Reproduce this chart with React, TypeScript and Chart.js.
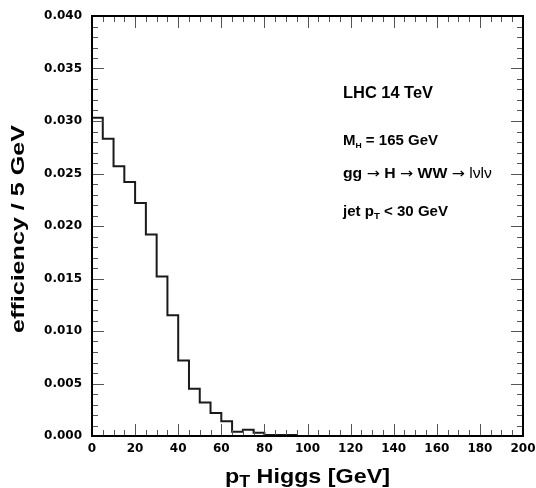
import React, { useEffect, useRef } from 'react';
import { Chart, registerables } from 'chart.js';

Chart.register(...registerables);

// ---- data ----
const binLowEdges = [
  0, 5, 10, 15, 20, 25, 30, 35, 40, 45,
  50, 55, 60, 65, 70, 75, 80, 85, 90, 95,
  100, 105, 110, 115, 120, 125, 130, 135, 140, 145,
  150, 155, 160, 165, 170, 175, 180, 185, 190, 195,
];
const efficiency = [
  0.0303, 0.0283, 0.0257, 0.0242, 0.0222, 0.0192, 0.0152, 0.0115, 0.0072, 0.0045,
  0.0032, 0.0022, 0.0014, 0.0004, 0.0006, 0.0003, 0.0001, 0.0001, 0.0001, 0,
  0, 0, 0, 0, 0, 0, 0, 0, 0, 0,
  0, 0, 0, 0, 0, 0, 0, 0, 0, 0,
];
const xMax = 200;
const yMax = 0.04;
const xMajorStep = 20;
const xMinorStep = 5;
const yMajorStep = 0.005;
const yMinorStep = 0.001;

type Run = { t: string; font: string; dy?: number };

function drawRuns(
  ctx: CanvasRenderingContext2D,
  runs: Run[],
  x: number,
  y: number,
  targetWidth?: number,
  rotation = 0
) {
  const widths = runs.map((r) => {
    ctx.font = r.font;
    return ctx.measureText(r.t).width;
  });
  const total = widths.reduce((s, w) => s + w, 0);
  const sx = targetWidth ? targetWidth / total : 1;
  ctx.save();
  ctx.translate(x, y);
  if (rotation) ctx.rotate(rotation);
  ctx.scale(sx, 1);
  ctx.textAlign = 'left';
  ctx.textBaseline = 'alphabetic';
  ctx.fillStyle = '#000';
  let cx = 0;
  runs.forEach((r, i) => {
    ctx.font = r.font;
    ctx.fillText(r.t, cx, r.dy || 0);
    cx += widths[i];
  });
  ctx.restore();
}

const LIB = '"Liberation Sans", Arial, sans-serif';
const B = (s: number) => `bold ${s}px ${LIB}`;
const R = (s: number) => `${s}px ${LIB}`;
const ARROW = '14px "DejaVu Sans", sans-serif';

const decorPlugin = {
  id: 'decor',
  afterDraw(chart: any) {
    const { ctx, chartArea: a, scales } = chart;
    const xs = scales.x;
    const ys = scales.y;
    ctx.save();
    // inward ticks on all four sides
    ctx.strokeStyle = '#555';
    ctx.lineWidth = 1;
    ctx.beginPath();
    const nx = Math.round(xMax / xMinorStep);
    for (let i = 0; i <= nx; i++) {
      const v = i * xMinorStep;
      const px = Math.round(xs.getPixelForValue(v)) + 0.5;
      const len = Math.abs(v / xMajorStep - Math.round(v / xMajorStep)) < 1e-6 ? 12 : 6;
      ctx.moveTo(px, a.bottom);
      ctx.lineTo(px, a.bottom - len);
      ctx.moveTo(px, a.top);
      ctx.lineTo(px, a.top + len);
    }
    const ny = Math.round(yMax / yMinorStep);
    for (let i = 0; i <= ny; i++) {
      const v = i * yMinorStep;
      const py = Math.round(ys.getPixelForValue(v)) + 0.5;
      const len = Math.abs(v / yMajorStep - Math.round(v / yMajorStep)) < 1e-6 ? 12 : 6;
      ctx.moveTo(a.left, py);
      ctx.lineTo(a.left + len, py);
      ctx.moveTo(a.right, py);
      ctx.lineTo(a.right - len, py);
    }
    ctx.stroke();
    // frame
    ctx.strokeStyle = '#000';
    ctx.lineWidth = 2;
    ctx.strokeRect(a.left, a.top, a.right - a.left, a.bottom - a.top);
    ctx.restore();

    // axis titles
    drawRuns(ctx, [{ t: 'efficiency / 5 GeV', font: B(19) }], 24, 333, 208, -Math.PI / 2);
    drawRuns(
      ctx,
      [
        { t: 'p', font: B(21) },
        { t: 'T', font: B(16), dy: 4 },
        { t: ' Higgs [GeV]', font: B(21) },
      ],
      225,
      483,
      165
    );

    // annotations
    drawRuns(ctx, [{ t: 'LHC 14 TeV', font: B(16) }], 343, 98, 90);
    drawRuns(
      ctx,
      [
        { t: 'M', font: B(14) },
        { t: 'H', font: B(8), dy: 2.5 },
        { t: ' = 165 GeV', font: B(14) },
      ],
      343,
      145,
      95
    );
    drawRuns(
      ctx,
      [
        { t: 'gg ', font: B(14) },
        { t: '\u2192', font: ARROW },
        { t: ' H ', font: B(14) },
        { t: '\u2192', font: ARROW },
        { t: ' WW ', font: B(14) },
        { t: '\u2192', font: ARROW },
        { t: ' l\u03BDl\u03BD', font: R(14) },
      ],
      343,
      178,
      149
    );
    drawRuns(
      ctx,
      [
        { t: 'jet p', font: B(14) },
        { t: 'T', font: B(9), dy: 3 },
        { t: ' < 30 GeV', font: B(14) },
      ],
      343,
      215.5,
      105
    );
  },
};

export default function App() {
  const ref = useRef<HTMLCanvasElement | null>(null);

  useEffect(() => {
    document.body.style.margin = '0';
    const canvas = ref.current;
    if (!canvas) return;
    const points = binLowEdges.map((x, i) => ({ x, y: efficiency[i] }));
    points.push({ x: xMax, y: efficiency[efficiency.length - 1] });

    const tickFont = { family: '"DejaVu Sans", sans-serif', weight: 'bold' as const, size: 12 };

    const chart = new Chart(canvas, {
      type: 'line',
      data: {
        datasets: [
          {
            data: points,
            borderColor: '#1a1a1a',
            borderWidth: 2,
            pointRadius: 0,
            stepped: true,
            fill: false,
            tension: 0,
          },
        ],
      },
      options: {
        responsive: false,
        animation: false,
        devicePixelRatio: 1,
        layout: { padding: { top: 16, right: 13, left: 0, bottom: 0 } },
        plugins: { legend: { display: false }, tooltip: { enabled: false } },
        scales: {
          x: {
            type: 'linear',
            min: 0,
            max: xMax,
            grid: { display: false, drawTicks: false },
            border: { display: false },
            ticks: { stepSize: xMajorStep, font: tickFont, color: '#000', padding: 6, maxRotation: 0 },
            afterFit: (s: any) => {
              s.height = 52;
              s.paddingLeft = 0;
              s.paddingRight = 0;
            },
          },
          y: {
            type: 'linear',
            min: 0,
            max: yMax,
            grid: { display: false, drawTicks: false },
            border: { display: false },
            ticks: {
              stepSize: yMajorStep,
              font: tickFont,
              color: '#000',
              padding: 10,
              callback: (v: any) => Number(v).toFixed(3),
            },
            afterFit: (s: any) => {
              s.width = 92;
              s.paddingTop = 0;
              s.paddingBottom = 0;
            },
          },
        },
      },
      plugins: [decorPlugin],
    });
    return () => chart.destroy();
  }, []);

  return (
    <div style={{ width: 536, height: 488 }}>
      <canvas ref={ref} width={536} height={488} style={{ display: 'block' }} />
    </div>
  );
}
